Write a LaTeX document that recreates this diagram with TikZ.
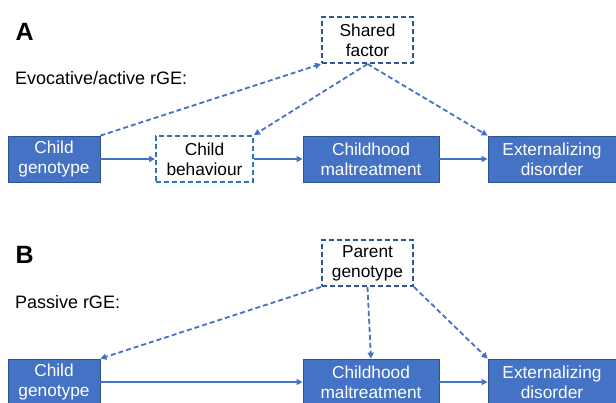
\documentclass[tikz,border=0pt]{standalone}
\usepackage{fontspec}
\setmainfont{Liberation Sans}
\usetikzlibrary{arrows.meta}
\definecolor{boxfill}{HTML}{4472C4}
\definecolor{boxedge}{HTML}{2F528F}
\definecolor{darkdash}{HTML}{2F5597}
\definecolor{lightdash}{HTML}{2E75B6}
\definecolor{linecol}{HTML}{4472C4}
\tikzset{
  solidbox/.style={draw=boxedge, line width=0.8pt, fill=boxfill, text=white, align=center,
    font=\fontsize{17.3}{20}\selectfont, inner sep=0pt, minimum height=46pt},
  dashbox/.style={draw=darkdash, line width=2pt, dash pattern=on 5pt off 3pt, fill=white, text=black,
    align=center, font=\fontsize{17.3}{20}\selectfont, inner sep=0pt, minimum height=46pt, minimum width=91pt},
  behbox/.style={dashbox, draw=lightdash},
  solidarrow/.style={draw=linecol, line width=1.6pt, -{Triangle[length=6pt,width=6pt]}},
  dasharrow/.style={draw=linecol, line width=1.8pt, dash pattern=on 5pt off 3pt, -{Triangle[length=6pt,width=6pt]}},
  lbl/.style={font=\fontsize{18}{20}\selectfont, anchor=base west, inner sep=0pt},
  panel/.style={font=\fontsize{25}{28}\selectfont\bfseries, anchor=base west, inner sep=0pt}
}
\begin{document}
\begin{tikzpicture}[x=1pt,y=-1pt]
\useasboundingbox (0,0) rectangle (616,402);
\clip (0,0) rectangle (616,402);
% Panel A
\node[panel] (la) at (15.5,40) {A};
\node[lbl] (ta) at (14.8,84) {Evocative/active rGE:};
\node[solidbox, minimum width=92pt] (cg) at (54,159) {Child\\genotype};
\node[behbox, minimum width=97pt] (cb) at (204.5,159) {Child\\behaviour};
\node[solidbox, minimum width=136pt] (cm) at (371,159) {Childhood\\maltreatment};
\node[solidbox, minimum width=128pt] (ed) at (552,159) {Externalizing\\disorder};
\node[dashbox] (sf) at (367.5,40) {Shared\\factor};
\draw[solidarrow] (cg) -- (cb);
\draw[solidarrow] (cb) -- (cm);
\draw[solidarrow] (cm) -- (ed);
\draw[dasharrow] (cg.north east) -- (sf.south west);
\draw[dasharrow] (sf.south) -- (cb.north east);
\draw[dasharrow] (sf.south) -- (ed.north west);
% Panel B
\node[panel] (lb) at (15.5,263) {B};
\node[lbl] (tb) at (14.8,308) {Passive rGE:};
\node[solidbox, minimum width=92pt] (cg2) at (54,382) {Child\\genotype};
\node[solidbox, minimum width=136pt] (cm2) at (371,382) {Childhood\\maltreatment};
\node[solidbox, minimum width=128pt] (ed2) at (552,382) {Externalizing\\disorder};
\node[dashbox] (pg) at (367.5,263) {Parent\\genotype};
\draw[solidarrow] (cg2) -- (cm2);
\draw[solidarrow] (cm2) -- (ed2);
\draw[dasharrow] (pg.south west) -- (cg2.north east);
\draw[dasharrow] (pg.south) -- (cm2.north);
\draw[dasharrow] (pg.south east) -- (ed2.north west);
\end{tikzpicture}
\end{document}
